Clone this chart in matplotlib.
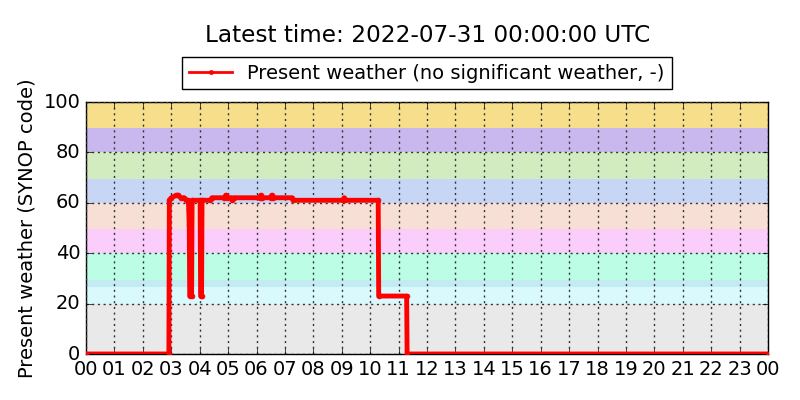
import numpy as np
import matplotlib
matplotlib.use('Agg')
import matplotlib.pyplot as plt
from matplotlib.lines import Line2D

# ===== data (minutes since 00:00 UTC, SYNOP present weather code) =====
minutes = [0, 175, 176, 180, 191, 195, 200, 207, 212, 216, 217, 218, 219, 223,
           224, 241, 242, 244, 245, 262, 266, 292, 295, 298, 307, 309, 312, 367,
           369, 371, 390, 392, 394, 435, 438, 543, 545, 547, 617, 618, 677, 678, 1440]
ww_code = [0, 0, 61, 62, 63, 63, 62, 62, 61, 61, 57, 51, 23, 23,
           61, 61, 23, 23, 61, 61, 62, 62, 63, 62, 62, 61, 62, 62,
           63, 62, 62, 63, 62, 62, 61, 61, 62, 61, 61, 23, 23, 0, 0]

# background bands for code groups (lower edge, upper edge, colour)
band_lo = [0, 20, 26.5, 29.5, 40, 49.5, 60, 69.5, 80, 89.5]
band_hi = [20, 26.5, 29.5, 40, 49.5, 60, 69.5, 80, 89.5, 100]
band_col = ['#e9e9e9', '#d9f9fd', '#c4ebf2', '#bbfde5', '#fbcdfb',
            '#f7dfd6', '#c8d6f5', '#d2ecbf', '#c8b8ed', '#f6de8a']

hour_labels = ['%02d' % (h % 24) for h in range(25)]
title = 'Latest time: 2022-07-31 00:00:00 UTC'
label = 'Present weather (no significant weather, -)'

plt.style.use('classic')
fig = plt.figure(figsize=(8, 4), dpi=100, facecolor='white')
ax = fig.add_axes([0.1075, 0.115, 0.8525, 0.63])

for lo, hi, c in zip(band_lo, band_hi, band_col):
    ax.axhspan(lo, hi, color=c, lw=0, zorder=0)

hours = np.array(minutes) / 60.0
ax.plot(hours, ww_code, color='red', lw=3.5, marker='.', ms=7, mec='red', zorder=3)

ax.set_xlim(0, 24)
ax.set_ylim(0, 100)
ax.set_xticks(range(25))
ax.set_xticklabels(hour_labels)
ax.set_yticks(range(0, 101, 20))
ax.tick_params(labelsize=14)
ax.grid(True, color='#333333', linestyle=(0, (1.5, 2.6)), lw=1)
ax.set_axisbelow(False)
ax.set_ylabel('Present weather (SYNOP code)', fontsize=14)

handle = Line2D([], [], color='red', lw=2, marker='.', ms=6)
leg = ax.legend([handle], [label], loc='lower center', bbox_to_anchor=(0.5, 1.05),
                numpoints=1, fontsize=14, frameon=True, fancybox=False,
                borderaxespad=0, handlelength=2.2, borderpad=0.35)
leg.get_frame().set_edgecolor('black')

fig.text(0.534, 0.912, title, ha='center', va='center', fontsize=16.7)

fig.savefig('out.png', dpi=100, facecolor='white')
